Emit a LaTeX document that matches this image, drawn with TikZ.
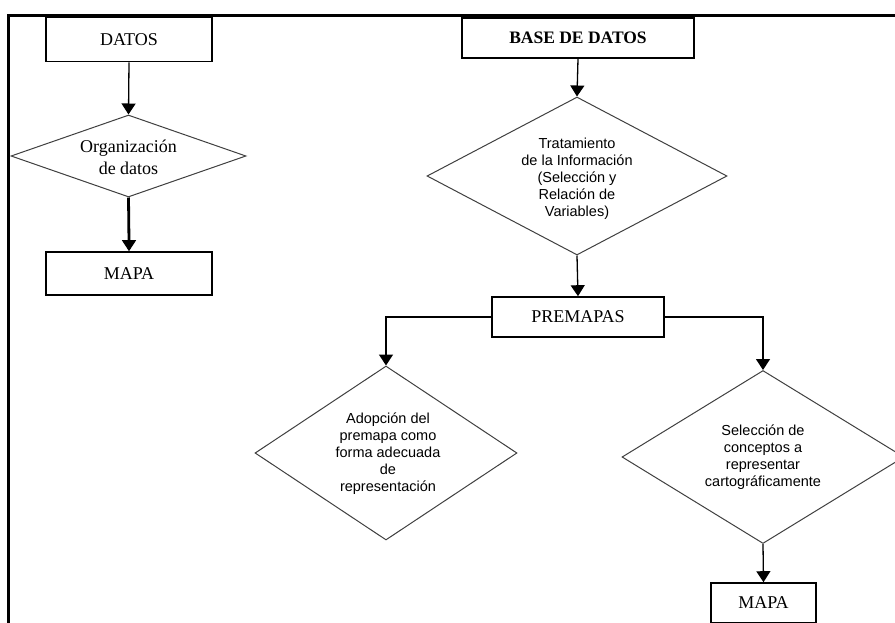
\documentclass[tikz,border=0pt]{standalone}
\usepackage{fontspec}
\setmainfont{Liberation Serif}
\newfontfamily\arialf{Liberation Sans}
\usetikzlibrary{shapes.geometric,arrows.meta}
\begin{document}
\begin{tikzpicture}[x=1pt,y=-1pt,
  box/.style={draw, line width=1.6pt, inner sep=0pt, minimum height=40pt},
  diam/.style={draw=black!75, line width=1pt, diamond, inner sep=0pt, aspect=2},
  conn/.style={line width=1.3pt, -{Triangle[width=14pt,length=11pt]}},
  thickline/.style={line width=2.8pt},
  serifbox/.style={font=\fontsize{18}{22}\selectfont},
  sanstext/.style={align=center, font=\arialf\fontsize{14.5}{17}\selectfont},
  frameline/.style={line width=2.5pt}]
\useasboundingbox (0,0) rectangle (895,622);
\clip (0,0) rectangle (895,622);
\fill[white] (0,0) rectangle (895,622);
% frame
\coordinate (fbl) at (8.5,630);
\coordinate (ftl) at (8.5,15.5);
\coordinate (ftr) at (900,15.5);
\draw[frameline] (fbl) -- (ftl) -- (ftr);
% left column
\node[box, serifbox, minimum width=166pt, minimum height=44pt] (datos) at (129,39.5) {DATOS};
\node[diam, minimum width=235pt, minimum height=82pt] (d1) at (128.5,156) {};
\node[align=center, font=\fontsize{18}{22}\selectfont] (t1) at (128.5,157) {Organización\\de datos};
\node[box, serifbox, minimum width=166pt, minimum height=43pt] (mapa1) at (129,273.5) {MAPA};
\coordinate (m1a) at ([yshift=12pt]mapa1.north);
\coordinate (m1b) at ([yshift=9pt]mapa1.north);
% right column
\node[box, minimum width=232pt, font=\bfseries\fontsize{17.5}{20}\selectfont, line width=2pt] (bdd) at (578,38) {BASE DE DATOS};
\node[diam, minimum width=300pt, minimum height=158pt] (d2) at (577,176) {};
\node[sanstext] (t2) at (577,179) {Tratamiento\\de la Información\\(Selección y\\Relación de\\Variables)};
\node[box, serifbox, minimum width=172pt] (pre) at (578,317) {PREMAPAS};
\node[diam, minimum width=262pt, minimum height=174pt] (d3) at (386,453) {};
\node[sanstext] (t3) at (388,454) {Adopción del\\premapa como\\forma adecuada\\de\\representación};
\node[diam, minimum width=282pt, minimum height=173pt] (d4) at (763,457) {};
\node[sanstext] (t4) at (763,457) {Selección de\\conceptos a\\representar\\cartográficamente};
\node[box, serifbox, minimum width=105pt] (mapa2) at (763.5,603) {MAPA};
% connectors
\draw[conn] (datos.south) -- (d1.north);
\draw[thickline] (d1.south) -- (m1b);
\draw[conn] (m1a) -- (mapa1.north);
\draw[conn] (bdd.south) -- (d2.north);
\draw[conn] (d2.south) -- (pre.north);
\draw[conn] (pre.west) -| (d3.north);
\draw[conn] (pre.east) -| (d4.north);
\draw[conn] (d4.south) -- (mapa2.north);
\end{tikzpicture}
\end{document}
